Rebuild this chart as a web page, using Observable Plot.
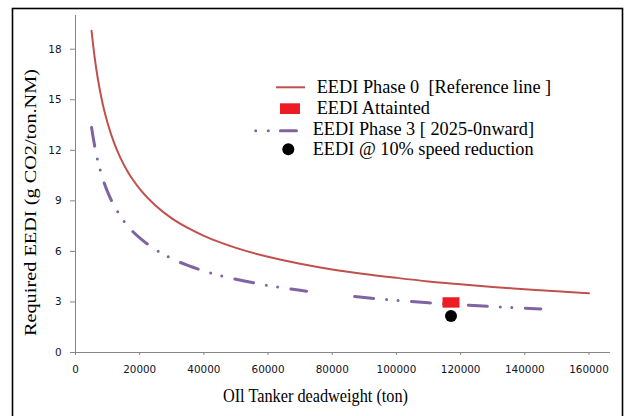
<!DOCTYPE html>
<html><head><meta charset="utf-8">
<script src="https://cdn.jsdelivr.net/npm/d3@7"></script>
<script src="https://cdn.jsdelivr.net/npm/@observablehq/plot@0.6"></script>
<style>
body{margin:0;background:#fff;}
#wrap{position:relative;width:627px;height:416px;overflow:hidden;background:#fff;}
#wrap svg{position:absolute;left:0;top:0;}
g[aria-label="x-axis tick"], g[aria-label="y-axis tick"]{stroke:#868686;}
</style></head><body><div id="wrap"></div>
<script>
// Phase 0 reference line
const dwt0 = [5000,6000,7000,8000,9000,10000,12000,14000,16000,18000,20000,25000,30000,35000,40000,50000,60000,70000,80000,90000,100000,110000,120000,130000,140000,150000,160000];
const eedi0 = [19.09,17.47,16.20,15.18,14.33,13.62,12.45,11.55,10.82,10.22,9.71,8.71,7.96,7.39,6.92,6.21,5.68,5.27,4.93,4.66,4.43,4.22,4.05,3.89,3.76,3.63,3.52];
// Phase 3 line (gap between ~72000 and ~87000)
const dwt3 = [5000,6000,7000,8000,9000,10000,12000,14000,16000,18000,20000,25000,30000,35000,40000,50000,60000,70000,72000,80000,87000,90000,100000,110000,120000,130000,140000,145000];
const eedi3 = [13.36,12.23,11.34,10.63,10.03,9.53,8.72,8.09,7.57,7.15,6.80,6.10,5.57,5.17,4.84,4.35,3.98,3.69,3.64,null,3.32,3.26,3.10,2.95,2.84,2.72,2.63,2.58];
// Single points
const attainedDwt = [117000];
const attainedEedi = [2.97];
const speedDwt = [117000];
const speedEedi = [2.17];
// Ticks
const xTicks = [0,20000,40000,60000,80000,100000,120000,140000,160000];
const yTicks = [0,3,6,9,12,15,18];
// Texts
const xTitle = "OIl Tanker deadweight (ton)";
const yTitle = "Required EEDI (g CO2/ton.NM)";
const legendLabels = ["EEDI Phase 0 \u00a0[Reference line ]","EEDI Attainted","EEDI Phase 3 [ 2025-0nward]","EEDI @ 10% speed reduction"];

const RED = "#C0504D", PURPLE = "#8064A2", BRIGHT = "#ED1C24";

const d0 = dwt0.map((x,i)=>({x, y:eedi0[i]}));
const d3s = dwt3.map((x,i)=>({x, y:eedi3[i]}));
const att = attainedDwt.map((x,i)=>({x, y:attainedEedi[i]}));
const spd = speedDwt.map((x,i)=>({x, y:speedEedi[i]}));

const rectSymbol = {draw(ctx){ ctx.rect(-8.5,-5.2,17,10.4); }};

const chart = Plot.plot({
  width: 627, height: 416,
  marginLeft: 75, marginRight: 17, marginTop: 15, marginBottom: 64,
  style: {fontFamily: "DejaVu Sans", fontSize: "10.4px", color: "#141424", background: "transparent"},
  x: {domain: [0, 166700], label: null},
  y: {domain: [0, 20], label: null},
  marks: [
    Plot.ruleY([0], {stroke: "#868686", strokeWidth: 1}),
    Plot.ruleX([0], {stroke: "#868686", strokeWidth: 1}),
    Plot.axisX({ticks: xTicks, tickSize: 3, tickPadding: 10, tickFormat: d3.format("d"), fontSize: 10.4, label: null}),
    Plot.axisY({ticks: yTicks, tickSize: 5, tickPadding: 9, tickFormat: d3.format("d"), fontSize: 10.4, label: null}),
    Plot.line(d0, {x: "x", y: "y", stroke: RED, strokeWidth: 2, curve: "monotone-x"}),
    Plot.line(d3s, {x: "x", y: "y", stroke: PURPLE, strokeWidth: 3, strokeLinecap: "round",
      strokeDasharray: "19,13,0,11.5,0,13.5", curve: "monotone-x"}),
    Plot.dot(att, {x: "x", y: "y", symbol: rectSymbol, fill: BRIGHT, stroke: "none", r: 5}),
    Plot.dot(spd, {x: "x", y: "y", fill: "#000", stroke: "none", r: 6})
  ]
});
const wrap = document.getElementById("wrap");
wrap.appendChild(chart);

// overlay: frame, titles, legend
const ov = d3.select(wrap).append("svg").attr("width", 627).attr("height", 416)
  .style("pointer-events","none");
ov.append("rect").attr("x",12.5).attr("y",8.5).attr("width",610).attr("height",430)
  .attr("fill","none").attr("stroke","#000").attr("stroke-width",1.6);

ov.append("text").text(xTitle)
  .attr("transform","translate(315.5,402) scale(0.88,1)")
  .attr("text-anchor","middle").attr("font-family","Liberation Serif").attr("font-size",18.5).attr("fill","#000");
ov.append("text").text(yTitle)
  .attr("transform","translate(36,202.5) rotate(-90) scale(1,0.8)")
  .attr("text-anchor","middle").attr("font-family","Liberation Serif").attr("font-size",20.3).attr("fill","#000");

const lg = ov.append("g").attr("font-family","Liberation Serif").attr("font-size",18.3).attr("fill","#000");
const lx = [316.7, 316.7, 312.7, 312.7];
const ly = [93.3, 114, 135, 155];
legendLabels.forEach((t,i)=> lg.append("text").attr("x",lx[i]).attr("y",ly[i]).text(t));
ov.append("line").attr("x1",276).attr("x2",305).attr("y1",87.3).attr("y2",87.3)
  .attr("stroke",RED).attr("stroke-width",2);
ov.append("rect").attr("x",280).attr("y",103.3).attr("width",20).attr("height",10.7).attr("fill",BRIGHT);
ov.append("line").attr("x1",255.7).attr("x2",296.5).attr("y1",130.7).attr("y2",130.7)
  .attr("stroke",PURPLE).attr("stroke-width",3).attr("stroke-linecap","round")
  .attr("stroke-dasharray","0,12.6,0,12.1,16.1");
ov.append("circle").attr("cx",288.3).attr("cy",149.3).attr("r",6).attr("fill","#000");
</script></body></html>
